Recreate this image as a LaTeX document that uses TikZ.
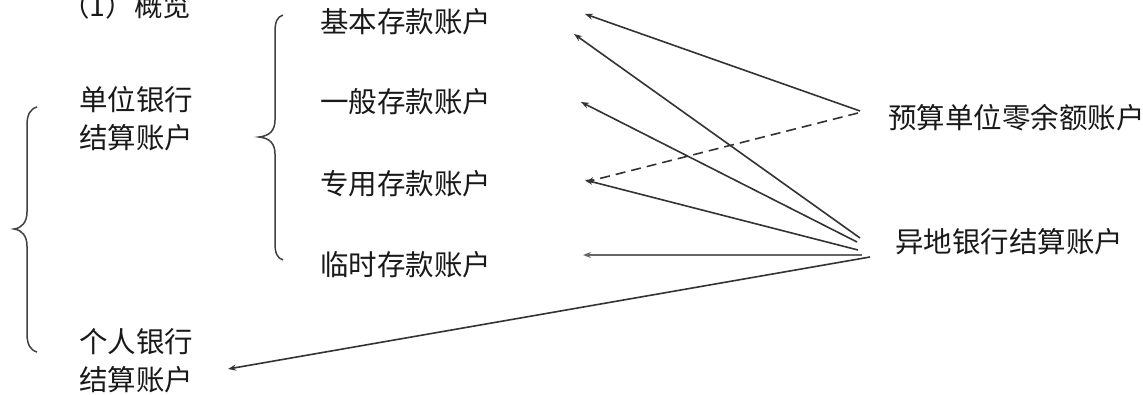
\documentclass[tikz,border=0pt]{standalone}
\usepackage{fontspec}
\setmainfont{Noto Sans CJK SC}
\usetikzlibrary{arrows.meta}
\begin{document}
\begin{tikzpicture}[x=1pt,y=-1pt,
  lbl/.style={anchor=west,inner sep=0pt,text=black!90,font=\fontsize{28.5}{38}\selectfont,align=left},
  conn/.style={draw=black!80,line width=1.6pt,-{Stealth[length=8pt,width=6pt]}},
  brc/.style={draw=black!75,line width=1.5pt}]
\useasboundingbox (0,0) rectangle (1143,395);
% texts
\node[lbl] (title) at (61,6) {（1）概览};
\node[lbl] (unit) at (79,119) {单位银行\\结算账户};
\node[lbl] (pers) at (79,361) {个人银行\\结算账户};
\node[lbl] (basic) at (320,22) {基本存款账户};
\node[lbl] (general) at (320,102) {一般存款账户};
\node[lbl] (special) at (320,184) {专用存款账户};
\node[lbl] (temp) at (320,265) {临时存款账户};
\node[lbl] (zero) at (888,118) {预算单位零余额账户};
\node[lbl] (remote) at (895,242) {异地银行结算账户};
% braces
\draw[brc] (37,107) .. controls (30,109) and (27,115) .. (27,125) -- (27,212)
  .. controls (27,222) and (22,228) .. (14,229)
  .. controls (22,230) and (27,236) .. (27,246) -- (27,334)
  .. controls (27,344) and (30,350) .. (37,352);
\draw[brc] (283,15) .. controls (277,17) and (275,22) .. (275,32) -- (275,120)
  .. controls (275,130) and (270,136) .. (259,137)
  .. controls (270,138) and (275,144) .. (275,154) -- (275,243)
  .. controls (275,253) and (277,258) .. (283,260);
% connector ends
\coordinate (z1) at (860,111);
\coordinate (z2) at (858,113);
\coordinate (r1) at (860,238);
\coordinate (r2) at (857,242);
\coordinate (r3) at (858,250);
\coordinate (r4) at (862,255);
\coordinate (r5) at (870,257);
\coordinate (tb1) at (585,14);
\coordinate (tb2) at (574,34);
\coordinate (tg) at (581,102);
\coordinate (ts1) at (586,182);
\coordinate (ts2) at (585,180);
\coordinate (tt) at (583,255);
\coordinate (tp) at (228,369);
% connectors
\draw[conn] (z1) -- (tb1);
\draw[conn,dash pattern=on 10pt off 6pt] (z2) -- (ts1);
\draw[conn] (r1) -- (tb2);
\draw[conn] (r2) -- (tg);
\draw[conn] (r3) -- (ts2);
\draw[conn,draw=black!60,line width=2.3pt] (r4) -- (tt);
\draw[conn] (r5) -- (tp);
\end{tikzpicture}
\end{document}
